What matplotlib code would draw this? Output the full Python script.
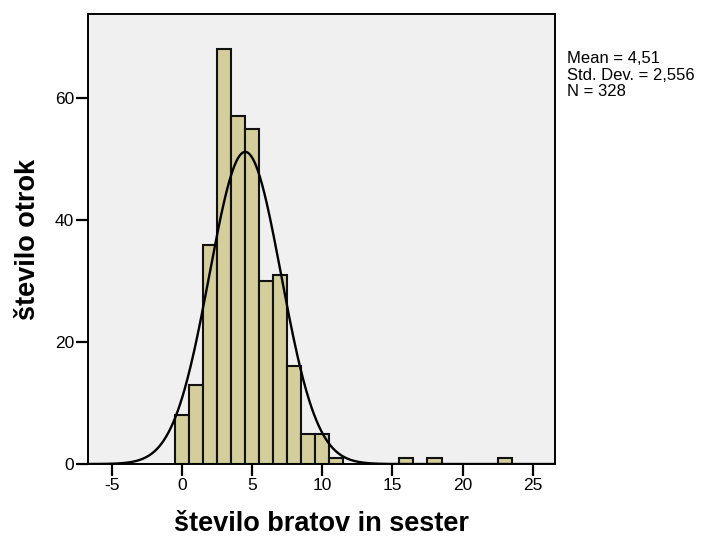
import numpy as np
import matplotlib
matplotlib.use("Agg")
import matplotlib.pyplot as plt

plt.rcParams["font.family"] = ["Liberation Sans", "DejaVu Sans"]
plt.rcParams["axes.unicode_minus"] = False

# ── Data (counts per number of siblings) ─────────────────────────────
siblings = [0, 1, 2, 3, 4, 5, 6, 7, 8, 9, 10, 11, 16, 18, 23]
counts   = [8, 13, 36, 68, 57, 55, 30, 31, 16, 5, 5, 1, 1, 1, 1]
mean, std_dev, n_total = 4.51, 2.556, 328

x_ticks = [-5, 0, 5, 10, 15, 20, 25]
y_ticks = [0, 20, 40, 60]

fig = plt.figure(figsize=(7.21, 5.40), dpi=100)
fig.patch.set_facecolor("#ffffff")
ax = fig.add_axes([0.122, 0.1407, 0.648, 0.8333])
ax.set_facecolor("#f0f0f0")

ax.bar(siblings, counts, width=1.0, color="#d3ce9b",
       edgecolor="#111111", linewidth=1.5, zorder=2)

# normal curve scaled to counts (bin width = 1)
xs = np.linspace(-6.7, 26.6, 600)
ys = n_total / (std_dev * np.sqrt(2 * np.pi)) * np.exp(-0.5 * ((xs - mean) / std_dev) ** 2)
ax.plot(xs, ys, color="#000000", linewidth=1.7, zorder=3)

ax.set_xlim(-6.7, 26.6)
ax.set_ylim(0, 73.8)
ax.set_xticks(x_ticks)
ax.set_yticks(y_ticks)
ax.tick_params(direction="out", length=8.5, width=1.6, pad=1.5, labelsize=12.5, colors="#000000")
for s in ax.spines.values():
    s.set_linewidth(1.4)
    s.set_color("#000000")

ax.set_xlabel("število bratov in sester", fontsize=19.5, fontweight="bold", labelpad=13)
ax.set_ylabel("število otrok", fontsize=19.5, fontweight="bold", labelpad=10)

stats = (f"Mean = {mean:.2f}".replace(".", ",") + "\n"
         + "Std. Dev. = " + f"{std_dev:.3f}".replace(".", ",") + "\n"
         + f"N = {n_total}")
fig.text(0.787, 0.905, stats, fontsize=12, va="top", ha="left", linespacing=1.1)

fig.savefig("out.png", dpi=100, facecolor="#ffffff")
